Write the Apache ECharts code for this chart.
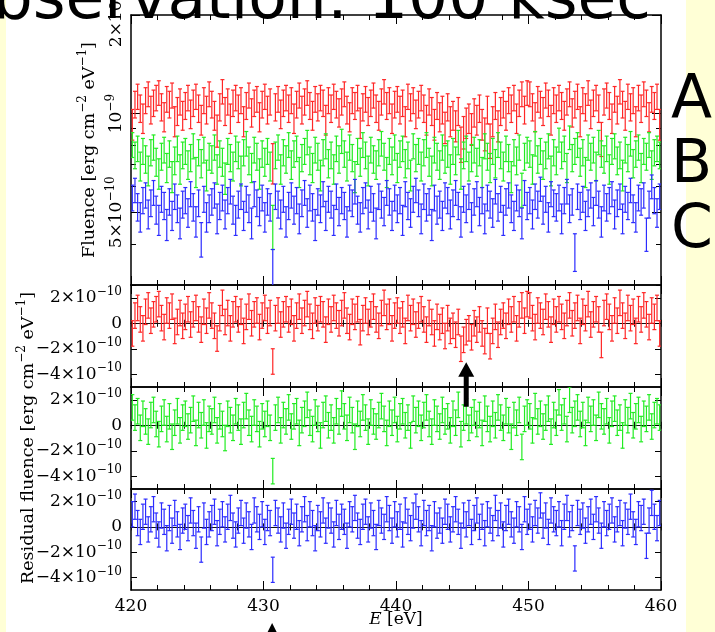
<!DOCTYPE html>
<html><head><meta charset="utf-8">
<script src="https://cdn.jsdelivr.net/npm/echarts@6/dist/echarts.min.js"></script>
<style>
html,body{margin:0;padding:0;background:#fff;}
#c{width:715px;height:632px;background:linear-gradient(to right,#ffffd6 0,#ffffd6 6px,#ffffff 6px,#ffffff 686px,#ffffd6 686px,#ffffd6 715px);}
</style></head><body><div id="c"></div>
<script>
// ---------------- data ----------------
// energy bins: centres 420.1 ... 459.9 eV, width 0.2 eV
const BIN_START = 420.1;
const BIN_WIDTH = 0.2;
// residual fluence of spectra A, B, C in units of 1e-11 erg cm^-2 eV^-1
const residA = [
 -8, 6, 12, 3, -4, 9, 14, 2, 7, 11,
 15, 4, -3, 10, 6, 13, -6, 1, 8, -2,
 5, 11, -1, 7, 12, 3, -5, 9, 2, 14,
 6, -2, -12, 4, 16, 1, 8, -4, 7, 11,
 3, 9, -6, 5, 13, 0, 7, 10, -3, 6,
 12, 2, 8, -30, 4, 10, -1, 7, 11, 3,
 9, -4, 6, 13, 2, 8, 15, 5, -2, 10,
 4, 11, 7, -5, 9, 3, 12, 6, 0, 8,
 14, 2, -3, 9, 5, 11, -7, 4, 10, 1,
 7, 13, 3, -2, 8, 16, 5, 9, -4, 6,
 10, 2, 7, -6, 12, 4, 9, -1, 6, 11,
 3, -5, 8, 1, -8, 5, -3, 2, -10, 4,
 -6, -2, -9, 1, -20, -13, -7, -4, -11, 0,
 -5, 3, -8, -14, 2, -18, -6, 5, -9, 1,
 6, -2, 9, 3, 11, -4, 7, 14, 2, 15,
 14, 4, -3, 10, 6, 1, 13, 7, -5, 9,
 3, 11, 5, -2, 8, 14, 0, 6, 12, -6,
 9, 4, 15, -1, 7, 11, 3, -17, 8, 13,
 5, -4, 10, 2, 16, 6, -2, 12, 4, 9,
 -6, 11, 3, 14, 7, -3, 10, 5, 12, -8
];
const residB = [
 14, 6, 11, -2, 9, 3, -5, 8, 12, 1,
 -7, 5, 10, -3, 7, -9, 2, 11, -4, 6,
 9, -1, 4, 13, -6, 8, 0, 10, -8, 5,
 3, 12, -4, 7, 1, -10, 9, 4, -2, 11,
 6, -5, 8, 15, 2, -3, 10, 5, -7, 7,
 1, 9, -2, -36, 6, 12, -4, 8, 3, 14,
 -1, 7, 11, -6, 4, 9, 16, 2, -3, 10,
 5, -8, 8, 13, 0, 6, -4, 11, 3, 17,
 7, -2, 12, 4, -9, 9, 1, 14, 6, -5,
 10, 3, -1, 8, 15, 5, -6, 9, 2, 12,
 -3, 7, 11, 0, 6, -8, 13, 4, 9, -2,
 8, 14, 1, -5, 10, 5, -1, 12, 3, 7,
 -4, 9, 2, 16, -7, 6, 11, -2, 4, 10,
 1, 8, -6, 13, 5, -3, 9, 0, 14, 6,
 -2, 11, 4, -9, 8, 2, 12, -17, 5, 10,
 7, -4, 15, 3, 9, -1, 6, 13, -5, 8,
 2, 18, 6, 11, -3, 20, 4, 9, 14, 1,
 8, -6, 12, 5, 10, -2, 16, 7, 3, 11,
 -4, 9, 13, 2, 6, -8, 10, 4, 15, 0,
 7, 12, -3, 9, 5, 14, -1, 8, 11, 6
];
const residC = [
 10, 16, 3, -4, 8, 12, -2, 6, 14, 1,
 -6, 9, 4, -9, 7, -3, 11, 2, -8, 5,
 8, -1, 13, 3, -7, 6, -18, 9, -4, 2,
 7, 12, -5, 4, 10, -2, 8, 15, 1, -6,
 5, 11, -3, 9, 2, -8, 13, 6, 0, 10,
 -4, 7, 3, -34, 11, 5, -2, 9, -7, 4,
 12, 1, 8, -5, 6, 14, -1, 10, 3, -9,
 7, 2, 13, -3, 9, 5, -6, 11, 0, 8,
 4, -7, 10, 6, 15, 1, -4, 8, 12, -2,
 9, 3, -8, 11, 5, 0, 14, 7, -3, 10,
 2, 8, -6, 13, 4, -1, 9, 16, 6, -5,
 11, 3, 7, -9, 10, 1, 5, -3, 12, 8,
 -2, 6, 14, 4, -7, 9, 2, 11, -4, 7,
 13, 0, 8, -5, 10, 5, -1, 15, 3, 9,
 -6, 7, 12, 2, -3, 10, 6, -8, 14, 4,
 8, -2, 11, 5, 17, 1, 9, -4, 13, 6,
 3, 10, -5, 8, 15, 2, 7, -25, 11, 4,
 9, -3, 6, 12, 0, 14, 5, -7, 10, 3,
 8, 13, -2, 6, 11, -5, 9, 4, 16, 2,
 -4, 10, 7, 12, -15, 5, 19, 8, -1, 11
];
// model continuum fluence (1e-10 erg cm^-2 eV^-1) and 1-sigma error per bin
const MODEL_FLUENCE = 10.1;
const ERROR_BAR = 1.0;
// display scale factors of spectra A, B, C in the top panel
const DISPLAY_SCALE = [1.0, 0.7, 0.5];
const SERIES_NAMES = ['A', 'B', 'C'];
const SERIES_COLORS = ['#ff2626', '#22ec22', '#2c2cff'];
// axis ticks
const X_MIN = 420, X_MAX = 460, X_STEP = 10;
const TOP_MIN = 3, TOP_MAX = 20;              // 1e-10 units, log axis
const TOP_MAJOR = [5, 10, 20];
const TOP_MAJOR_LABELS = ['5×10{s|−10}', '10{s|−9}', '2×10{s|−9}'];
const TOP_MINOR = [3, 4, 6, 7, 8, 9];
const RES_MIN = -5, RES_MAX = 3;               // 1e-10 units
const RES_TICKS = [-4, -2, 0, 2];
const RES_LABELS = ['−4×10{s|−10}', '−2×10{s|−10}', '0', '2×10{s|−10}'];
// annotations
const ARROW_E = 445.3, ARROW_TIP = -3.05, ARROW_HEAD = -4.2, ARROW_TAIL = 1.45;
const MARK_E = 430.65;

// ---------------- chart ----------------
const chart = echarts.init(document.getElementById('c'), null, {renderer: 'canvas'});
const SERIF = 'DejaVu Serif';
const FS = 17;
const NFS = 17.5;
const rich = {s: {fontSize: 12, fontFamily: SERIF, color: '#000', padding: [0, 0, 12, 0]}};
const frameLine = {show: true, onZero: false, lineStyle: {color: '#000', width: 1.5}};

const grids = [
  {left: 131, right: 54, top: 15, height: 270},
  {left: 131, right: 54, top: 285, height: 102},
  {left: 131, right: 54, top: 387, height: 102},
  {left: 131, right: 54, top: 489, height: 101}
].map(g => Object.assign(g, {containLabel: false, outerBoundsMode: 'none'}));

const xAxes = [], yAxes = [];
function addX(g, pos, opts) {
  xAxes.push(Object.assign({
    gridIndex: g, type: 'value', min: X_MIN, max: X_MAX, interval: X_STEP, position: pos,
    axisLine: frameLine,
    axisTick: {show: true, inside: true, length: 9, lineStyle: {color: '#000', width: 1}},
    minorTick: {show: true, splitNumber: 5, length: 5, lineStyle: {color: '#000', width: 1}},
    axisLabel: {show: false}, splitLine: {show: false}, nameMoveOverlap: false
  }, opts || {}));
  return xAxes.length - 1;
}
function addY(g, opts) { yAxes.push(Object.assign({gridIndex: g, splitLine: {show: false}, nameMoveOverlap: false}, opts)); return yAxes.length - 1; }

// top grid
const xTop = addX(0, 'bottom');
addX(0, 'top');
const yLog = addY(0, {type: 'log', logBase: 10, min: TOP_MIN, max: TOP_MAX, show: false, axisLine: {onZero: false}});
const LMIN = Math.log10(TOP_MIN), LMAX = Math.log10(TOP_MAX);
const majL = TOP_MAJOR.map(v => Math.log10(v)), minL = TOP_MINOR.map(v => Math.log10(v));
['left', 'right'].forEach(pos => {
  addY(0, {type: 'value', min: LMIN, max: LMAX, position: pos, axisLine: frameLine,
    axisTick: {show: true, inside: true, length: 9, customValues: majL, lineStyle: {color: '#000'}},
    axisLabel: pos === 'left' ? {show: true, customValues: majL, rotate: 90, margin: 2,
      fontFamily: SERIF, fontSize: FS, color: '#000', rich: rich,
      formatter: v => { let k = 0; majL.forEach((m, i) => { if (Math.abs(m - v) < Math.abs(majL[k] - v)) k = i; }); return TOP_MAJOR_LABELS[k]; }} : {show: false},
    name: pos === 'left' ? 'Fluence [erg cm{s|−2} eV{s|−1}]' : '', nameLocation: 'middle', nameGap: 30,
    nameTextStyle: {fontFamily: SERIF, fontSize: NFS, color: '#000', rich: rich}
  });
  addY(0, {type: 'value', min: LMIN, max: LMAX, position: pos, axisLine: {show: false, onZero: false},
    axisTick: {show: true, inside: true, length: 5, customValues: minL, lineStyle: {color: '#000'}},
    axisLabel: {show: false}});
});

// residual grids
const resAxes = [];
for (let g = 1; g <= 3; g++) {
  const xb = addX(g, 'bottom', g === 3 ? {
    axisLabel: {show: true, margin: 8, fontFamily: SERIF, fontSize: FS, color: '#000'},
    name: '{i|E} [eV]', nameLocation: 'middle', nameGap: 21,
    nameTextStyle: {fontFamily: SERIF, fontSize: FS, color: '#000', rich: {i: {fontFamily: SERIF, fontStyle: 'italic', fontSize: FS, color: '#000'}}}
  } : {});
  addX(g, 'top');
  const yl = addY(g, {type: 'value', min: RES_MIN, max: RES_MAX, position: 'left', axisLine: frameLine,
    axisTick: {show: true, inside: true, length: 6, customValues: RES_TICKS, lineStyle: {color: '#000'}},
    axisLabel: {show: true, customValues: RES_TICKS, margin: 9, fontFamily: SERIF, fontSize: FS, color: '#000', rich: rich,
      formatter: v => RES_LABELS[RES_TICKS.indexOf(Math.round(v))]},
    name: g === 2 ? 'Residual fluence [erg cm{s|−2} eV{s|−1}]' : '', nameLocation: 'middle', nameGap: 91,
    nameTextStyle: {fontFamily: SERIF, fontSize: NFS, color: '#000', rich: rich}
  });
  addY(g, {type: 'value', min: RES_MIN, max: RES_MAX, position: 'right', axisLine: frameLine,
    axisTick: {show: true, inside: true, length: 6, customValues: RES_TICKS, lineStyle: {color: '#000'}},
    axisLabel: {show: false}});
  // zero (model) line with small ticks on both sides
  [true, false].forEach(ins => addX(g, 'bottom', {
    axisLine: {show: true, onZero: true, onZeroAxisIndex: yl, lineStyle: {color: '#111', width: 1}},
    axisTick: {show: true, inside: ins, length: 3.5, lineStyle: {color: '#111', width: 1}},
    minorTick: {show: true, splitNumber: 5, length: 3.5, lineStyle: {color: '#111', width: 1}}
  }));
  resAxes.push({x: xb, y: yl});
}

function errBar(params, api) {
  const x = api.value(0);
  const a = api.coord([x, api.value(2)]);
  const b = api.coord([x, api.value(3)]);
  const st = {stroke: api.visual('color'), lineWidth: 1.2};
  return {type: 'group', children: [
    {type: 'line', shape: {x1: a[0], y1: a[1], x2: b[0], y2: b[1]}, style: st},
    {type: 'line', shape: {x1: a[0] - 2, y1: a[1], x2: a[0] + 2, y2: a[1]}, style: st},
    {type: 'line', shape: {x1: b[0] - 2, y1: b[1], x2: b[0] + 2, y2: b[1]}, style: st}
  ]};
}

const resids = [residA, residB, residC];
const series = [];
resids.forEach((res, s) => {
  const k = DISPLAY_SCALE[s];
  const topData = res.map((r, i) => {
    const e = BIN_START + i * BIN_WIDTH;
    const v = k * (MODEL_FLUENCE + r / 10), d = k * ERROR_BAR;
    return [e, v, v - d, v + d];
  });
  series.push({type: 'custom', name: SERIES_NAMES[s], xAxisIndex: xTop, yAxisIndex: yLog, clip: true,
    itemStyle: {color: SERIES_COLORS[s]}, renderItem: errBar, data: topData, z: 2 + s});
  const resData = res.map((r, i) => {
    const e = BIN_START + i * BIN_WIDTH;
    const v = r / 10;
    return [e, v, v - ERROR_BAR, v + ERROR_BAR];
  });
  series.push({type: 'custom', name: SERIES_NAMES[s] + ' residual', xAxisIndex: resAxes[s].x, yAxisIndex: resAxes[s].y, clip: true,
    itemStyle: {color: SERIES_COLORS[s]}, renderItem: errBar, data: resData, z: 2});
});

chart.setOption({
  animation: false,
  backgroundColor: 'transparent',
  grid: grids, xAxis: xAxes, yAxis: yAxes, series: series
});

// annotations (positioned via the axes)
const tip = chart.convertToPixel({xAxisIndex: resAxes[0].x, yAxisIndex: resAxes[0].y}, [ARROW_E, ARROW_TIP]);
const head = chart.convertToPixel({xAxisIndex: resAxes[0].x, yAxisIndex: resAxes[0].y}, [ARROW_E, ARROW_HEAD]);
const tail = chart.convertToPixel({xAxisIndex: resAxes[1].x, yAxisIndex: resAxes[1].y}, [ARROW_E, ARROW_TAIL]);
const mark = chart.convertToPixel({xAxisIndex: resAxes[2].x, yAxisIndex: resAxes[2].y}, [MARK_E, RES_MIN]);
const ax = tip[0];
chart.setOption({graphic: [
  {type: 'text', x: 651, y: 33, z: 100, style: {text: 'Observation: 100 ksec', font: '63px "DejaVu Sans"', fill: '#000', align: 'right', verticalAlign: 'bottom'}},
  {type: 'text', x: 671, y: 101, z: 100, style: {text: 'A', font: '60px "DejaVu Sans"', fill: '#000', align: 'left', verticalAlign: 'middle'}},
  {type: 'text', x: 671, y: 166, z: 100, style: {text: 'B', font: '60px "DejaVu Sans"', fill: '#000', align: 'left', verticalAlign: 'middle'}},
  {type: 'text', x: 671, y: 231, z: 100, style: {text: 'C', font: '60px "DejaVu Sans"', fill: '#000', align: 'left', verticalAlign: 'middle'}},
  {type: 'polygon', z: 100, shape: {points: [[ax, tip[1]], [ax - 8, head[1]], [ax - 2.5, head[1]], [ax - 2.5, tail[1]], [ax + 2.5, tail[1]], [ax + 2.5, head[1]], [ax + 8, head[1]]]}, style: {fill: '#000'}},
  {type: 'polygon', z: 100, shape: {points: [[mark[0], mark[1] + 33], [mark[0] - 5, mark[1] + 43], [mark[0] + 5, mark[1] + 43]]}, style: {fill: '#000'}}
]});
</script>
</body></html>
